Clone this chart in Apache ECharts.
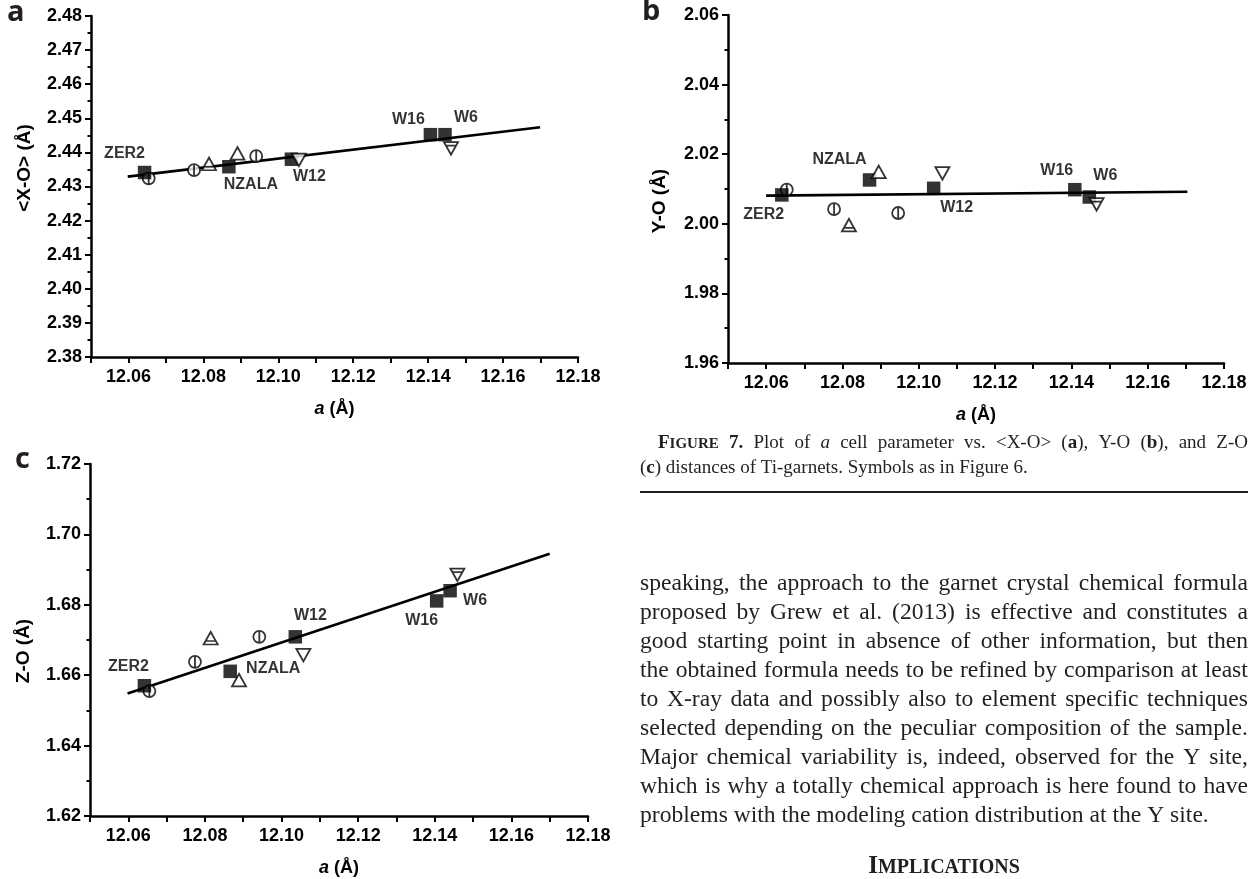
<!DOCTYPE html>
<html><head><meta charset="utf-8">
<script src="https://cdn.jsdelivr.net/npm/echarts@6/dist/echarts.min.js"></script>
<style>
html,body{margin:0;padding:0;background:#fff;}
#chart{position:absolute;left:0;top:0;width:1256px;height:879px;}
.ln{position:absolute;display:flex;justify-content:space-between;white-space:nowrap;font-family:'Liberation Serif','Times New Roman',serif;color:#231f20;}
.ln.left{justify-content:flex-start;}
.ln.left span{margin-right:0.25em;}
#rule{position:absolute;left:640px;width:608px;height:2px;background:#231f20;}
#impl{position:absolute;left:640px;width:608px;text-align:center;font-family:'Liberation Serif','Times New Roman',serif;font-weight:bold;color:#231f20;white-space:nowrap;}
</style></head>
<body>
<div id="chart"></div>
<div id="text"></div>
<script>
// ---------- data ----------
const sampleNames = ['ZER2', 'NZALA', 'W12', 'W16', 'W6'];
const xTickLabels = ['12.06', '12.08', '12.10', '12.12', '12.14', '12.16', '12.18'];

// panel a : <X-O>
const aSqX = [12.0643, 12.0868, 12.1035, 12.1406, 12.1445];
const aSqY = [2.4341, 2.4358, 2.4380, 2.4452, 2.4452];
const aCircX = [12.0654, 12.0775, 12.0941];
const aCircY = [2.4324, 2.4348, 2.4389];
const aTriUpX = [12.0891];   const aTriUpY = [2.4397];
const aTriUpBarX = [12.0815]; const aTriUpBarY = [2.4366];
const aTriDnX = [12.1055];   const aTriDnY = [2.4378];
const aTriDnBarX = [12.1461]; const aTriDnBarY = [2.4412];
const aFitX = [12.0598, 12.1699];
const aFitY = [2.4329, 2.4474];

// panel b : Y-O
const bSqX = [12.0641, 12.0871, 12.1039, 12.1409, 12.1447];
const bSqY = [2.0083, 2.0126, 2.0102, 2.0098, 2.0077];
const bCircX = [12.0654, 12.0778, 12.0946];
const bCircY = [2.0098, 2.0042, 2.0031];
const bTriUpX = [12.0895];   const bTriUpY = [2.0149];
const bTriUpBarX = [12.0817]; const bTriUpBarY = [1.9996];
const bTriDnX = [12.1062];   const bTriDnY = [2.0145];
const bTriDnBarX = [12.1466]; const bTriDnBarY = [2.0056];
const bFitX = [12.0600, 12.1704];
const bFitY = [2.0081, 2.0092];

// panel c : Z-O
const cSqX = [12.0642, 12.0866, 12.1036, 12.1405, 12.1440];
const cSqY = [1.6570, 1.6611, 1.6709, 1.6811, 1.6840];
const cCircX = [12.0655, 12.0774, 12.0942];
const cCircY = [1.6555, 1.6638, 1.6709];
const cTriUpX = [12.0889];   const cTriUpY = [1.6586];
const cTriUpBarX = [12.0815]; const cTriUpBarY = [1.6705];
const cTriDnX = [12.1057];   const cTriDnY = [1.6657];
const cTriDnBarX = [12.1459]; const cTriDnBarY = [1.6885];
const cFitX = [12.0598, 12.1700];
const cFitY = [1.6548, 1.6945];

// ---------- styling / layout ----------
const labelOffsets = [
  [[-20,-19],[22,18],[18,17],[-22,-15],[21,-17]],
  [[-18,20],[-30,-20],[23,19],[-18,-19],[16,-21]],
  [[-16,-19],[43,-3],[15,-21],[-15,20],[25,10]]
];
const CIRC = 'path://M0 50A50 50 0 1 1 100 50A50 50 0 1 1 0 50ZM50 0L50 100';
const TRI_UP = 'path://M50 0L100 100L0 100Z';
const TRI_UP_BAR = 'path://M50 0L100 100L0 100ZM14 72L86 72';
const TRI_DN = 'path://M0 0L100 0L50 100Z';
const TRI_DN_BAR = 'path://M0 0L100 0L50 100ZM14 28L86 28';

const zip = (xs, ys) => xs.map((x, i) => [x, ys[i]]);
const SANS = "'Liberation Sans', Arial, sans-serif";

function xAxis(i) {
  return {
    type: 'value', gridIndex: i, min: 12.05, max: 12.18, interval: 0.01,
    name: '{i|a} (Å)', nameLocation: 'middle', nameGap: 43,
    nameTextStyle: { color: '#000', fontFamily: SANS, fontWeight: 'bold', fontSize: 18,
      verticalAlign: 'top',
      rich: { i: { fontStyle: 'italic', fontWeight: 'bold', fontFamily: SANS, fontSize: 18, color: '#000' } } },
    axisLine: { show: true, onZero: false, lineStyle: { color: '#000', width: 2.5 } },
    axisTick: { show: true, inside: false, length: 6, lineStyle: { color: '#000', width: 2 } },
    axisLabel: { color: '#000', fontFamily: SANS, fontWeight: 'bold', fontSize: 18, margin: 11,
      showMinLabel: true, showMaxLabel: true, hideOverlap: false,
      formatter: v => { const s = (Math.round(v * 100) / 100).toFixed(2); return xTickLabels.includes(s) ? s : ''; } },
    splitLine: { show: false }
  };
}
function yAxis(i, min, max, interval) {
  return {
    type: 'value', gridIndex: i, min: min, max: max, interval: interval,
    axisLine: { show: true, onZero: false, lineStyle: { color: '#000', width: 2.5 } },
    axisTick: { show: true, inside: false, length: 6, lineStyle: { color: '#000', width: 2 } },
    minorTick: { show: true, splitNumber: 2, length: 3.5, lineStyle: { color: '#000', width: 2 } },
    axisLabel: { color: '#000', fontFamily: SANS, fontWeight: 'bold', fontSize: 18, margin: 9,
      showMinLabel: true, showMaxLabel: true, formatter: v => v.toFixed(2) },
    splitLine: { show: false }, minorSplitLine: { show: false }
  };
}

function panelSeries(i, d) {
  const open = { color: '#fff', borderColor: '#000', borderWidth: 1.8 };
  const base = { type: 'scatter', xAxisIndex: i, yAxisIndex: i, silent: true };
  return [
    { type: 'line', xAxisIndex: i, yAxisIndex: i, data: zip(d.fitX, d.fitY), symbol: 'none',
      lineStyle: { color: '#000', width: 2.6 }, z: 1, silent: true },
    Object.assign({}, base, { data: zip(d.circX, d.circY), symbol: CIRC, symbolSize: 12, itemStyle: open, z: 2 }),
    Object.assign({}, base, {
      data: d.sqX.map((x, k) => ({
        value: [x, d.sqY[k]],
        label: { show: true, position: 'inside', offset: labelOffsets[i][k], formatter: sampleNames[k],
          color: '#000', fontFamily: SANS, fontWeight: 'bold', fontSize: 16 }
      })),
      symbol: 'rect', symbolSize: 13.5, itemStyle: { color: '#000' }, z: 3 }),
    Object.assign({}, base, { data: zip(d.tuX, d.tuY), symbol: TRI_UP, symbolSize: [14, 12.5], itemStyle: open, z: 4 }),
    Object.assign({}, base, { data: zip(d.tubX, d.tubY), symbol: TRI_UP_BAR, symbolSize: [14, 12.5], itemStyle: open, z: 4 }),
    Object.assign({}, base, { data: zip(d.tdX, d.tdY), symbol: TRI_DN, symbolSize: [14, 12.5], itemStyle: open, z: 4 }),
    Object.assign({}, base, { data: zip(d.tdbX, d.tdbY), symbol: TRI_DN_BAR, symbolSize: [14, 12.5], itemStyle: open, z: 4 })
  ];
}

const panels = [
  { sqX: aSqX, sqY: aSqY, circX: aCircX, circY: aCircY, tuX: aTriUpX, tuY: aTriUpY, tubX: aTriUpBarX, tubY: aTriUpBarY,
    tdX: aTriDnX, tdY: aTriDnY, tdbX: aTriDnBarX, tdbY: aTriDnBarY, fitX: aFitX, fitY: aFitY },
  { sqX: bSqX, sqY: bSqY, circX: bCircX, circY: bCircY, tuX: bTriUpX, tuY: bTriUpY, tubX: bTriUpBarX, tubY: bTriUpBarY,
    tdX: bTriDnX, tdY: bTriDnY, tdbX: bTriDnBarX, tdbY: bTriDnBarY, fitX: bFitX, fitY: bFitY },
  { sqX: cSqX, sqY: cSqY, circX: cCircX, circY: cCircY, tuX: cTriUpX, tuY: cTriUpY, tubX: cTriUpBarX, tubY: cTriUpBarY,
    tdX: cTriDnX, tdY: cTriDnY, tdbX: cTriDnBarX, tdbY: cTriDnBarY, fitX: cFitX, fitY: cFitY }
];

const chart = echarts.init(document.getElementById('chart'), null, { renderer: 'canvas' });
const letterFont = "bold 29px 'Open Sans', sans-serif";
const nameFont = "bold 19px " + SANS;
chart.setOption({
  animation: false,
  backgroundColor: '#fff',
  grid: [
    { left: 91, top: 16, width: 487, height: 341 },
    { left: 728, top: 15, width: 496, height: 348 },
    { left: 90, top: 464, width: 498, height: 352 }
  ],
  xAxis: [xAxis(0), xAxis(1), xAxis(2)],
  yAxis: [yAxis(0, 2.38, 2.48, 0.01), yAxis(1, 1.96, 2.06, 0.02), yAxis(2, 1.62, 1.72, 0.02)],
  series: [].concat(panelSeries(0, panels[0]), panelSeries(1, panels[1]), panelSeries(2, panels[2])),
  graphic: [
    { type: 'text', x: 7, y: 13, style: { text: 'a', font: letterFont, fill: '#231f20', textVerticalAlign: 'middle' } },
    { type: 'text', x: 642, y: 12, style: { text: 'b', font: letterFont, fill: '#231f20', textVerticalAlign: 'middle' } },
    { type: 'text', x: 15, y: 460, style: { text: 'c', font: letterFont, fill: '#231f20', textVerticalAlign: 'middle' } },
    { type: 'text', x: 25, y: 168, rotation: Math.PI / 2,
      style: { text: '<X-O> (Å)', font: nameFont, fill: '#000', textAlign: 'center', textVerticalAlign: 'middle' } },
    { type: 'text', x: 660, y: 201, rotation: Math.PI / 2,
      style: { text: 'Y-O (Å)', font: nameFont, fill: '#000', textAlign: 'center', textVerticalAlign: 'middle' } },
    { type: 'text', x: 24, y: 651, rotation: Math.PI / 2,
      style: { text: 'Z-O (Å)', font: nameFont, fill: '#000', textAlign: 'center', textVerticalAlign: 'middle' } }
  ]
});

// ---------- surrounding page text ----------
const SC = (first, rest, big, small) =>
  '<b style="font-size:' + big + 'px">' + first + '</b><b style="font-size:' + small + 'px">' + rest + '</b>';
const captionLines = [
  [SC('F', 'IGURE', 19, 15), '<b>7.</b>', 'Plot', 'of', '<i>a</i>', 'cell', 'parameter', 'vs.', '&lt;X-O&gt;',
   '(<b>a</b>),', 'Y-O', '(<b>b</b>),', 'and', 'Z-O'],
  ['(<b>c</b>)', 'distances', 'of', 'Ti-garnets.', 'Symbols', 'as', 'in', 'Figure', '6.']
];
const paraLines = [
  'speaking, the approach to the garnet crystal chemical formula',
  'proposed by Grew et al. (2013) is effective and constitutes a',
  'good starting point in absence of other information, but then',
  'the obtained formula needs to be refined by comparison at least',
  'to X-ray data and possibly also to element specific techniques',
  'selected depending on the peculiar composition of the sample.',
  'Major chemical variability is, indeed, observed for the Y site,',
  'which is why a totally chemical approach is here found to have',
  'problems with the modeling cation distribution at the Y site.'
];
const host = document.getElementById('text');
function addLine(words, left, width, centerY, fs, lh, justify) {
  const d = document.createElement('div');
  d.className = 'ln' + (justify ? '' : ' left');
  d.style.left = left + 'px';
  d.style.width = width + 'px';
  d.style.top = (centerY - lh / 2) + 'px';
  d.style.fontSize = fs + 'px';
  d.style.lineHeight = lh + 'px';
  d.innerHTML = words.map(w => '<span>' + w + '</span>').join('');
  host.appendChild(d);
}
addLine(captionLines[0], 658, 590, 442, 19, 24, true);
addLine(captionLines[1], 640, 608, 467, 19, 24, false);
const rule = document.createElement('div'); rule.id = 'rule'; rule.style.top = '491px'; host.appendChild(rule);
paraLines.forEach((l, k) => addLine(l.split(' '), 640, 608, 582 + 29 * k, 23.6, 29, k < paraLines.length - 1));
const impl = document.createElement('div'); impl.id = 'impl';
impl.style.top = (865 - 15) + 'px'; impl.style.lineHeight = '30px';
impl.innerHTML = SC('I', 'MPLICATIONS', 25, 20);
host.appendChild(impl);
</script>
</body></html>
